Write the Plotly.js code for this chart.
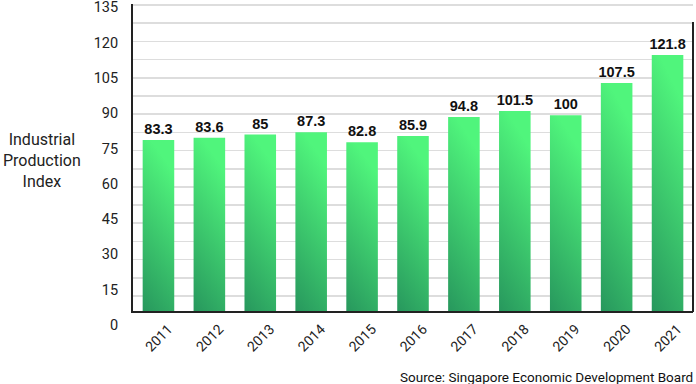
<!DOCTYPE html>
<html>
<head>
<meta charset="utf-8">
<script src="https://cdn.plot.ly/plotly-3.0.1.min.js"></script>
<style>
  html, body { margin: 0; padding: 0; background: #ffffff; }
  #chart { width: 696px; height: 384px; }
</style>
</head>
<body>
<div id="chart"></div>
<script>
// Categories (years)
const years = ['2011', '2012', '2013', '2014', '2015', '2016', '2017', '2018', '2019', '2020', '2021'];
// Bar heights as drawn in the picture (index scale)
const barHeights = [83.7, 84.8, 86.3, 87.4, 82.5, 85.6, 94.9, 97.8, 95.7, 111.5, 125.1];
// Value labels printed above the bars
const valueLabels = ['83.3', '83.6', '85', '87.3', '82.8', '85.9', '94.8', '101.5', '100', '107.5', '121.8'];
// Left tick labels
const tickValues = [0, 15, 30, 45, 60, 75, 90, 105, 120, 135];
const tickLabels = ['0', '15', '30', '45', '60', '75', '90', '105', '120', '135'];

const barTrace = {
  type: 'bar',
  x: years,
  y: barHeights,
  text: valueLabels,
  textposition: 'outside',
  texttemplate: '%{text}',
  cliponaxis: false,
  constraintext: 'none',
  textfont: { family: 'Liberation Sans, Arial, sans-serif', size: 14.5, weight: 700, color: '#111111' },
  marker: { color: '#3ac46c', line: { width: 0 } },
  hoverinfo: 'none'
};

// empty helper trace so the label axis (yaxis2) is created and drawn
const axisTrace = {
  type: 'scatter',
  mode: 'none',
  x: [],
  y: [],
  xaxis: 'x',
  yaxis: 'y2',
  hoverinfo: 'none',
  showlegend: false
};

const layout = {
  width: 696,
  height: 384,
  margin: { l: 133, r: 3, t: 4, b: 59, pad: 0 },
  paper_bgcolor: '#ffffff',
  plot_bgcolor: 'rgba(0,0,0,0)',
  showlegend: false,
  bargap: 0.38,
  font: { family: 'Roboto, sans-serif', color: '#222222' },
  xaxis: {
    type: 'category',
    categoryorder: 'array',
    categoryarray: years,
    showline: true,
    linecolor: '#222222',
    linewidth: 2,
    showgrid: false,
    zeroline: false,
    ticks: '',
    tickangle: -45,
    ticklabelshift: 10,
    ticklabelstandoff: 2,
    tickfont: { family: 'Roboto, sans-serif', size: 14, color: '#222222' },
    automargin: false,
    fixedrange: true
  },
  yaxis: {
    domain: [0.04206, 1],
    range: [0, 150],
    tick0: 7.56,
    dtick: 8.87,
    showgrid: true,
    gridcolor: '#dddddd',
    gridwidth: 1.6,
    showticklabels: false,
    ticks: '',
    showline: true,
    linecolor: '#222222',
    linewidth: 2,
    zeroline: false,
    automargin: false,
    fixedrange: true
  },
  yaxis2: {
    anchor: 'x',
    side: 'left',
    domain: [0, 0.9934],
    range: [0, 135.5],
    tickmode: 'array',
    tickvals: tickValues,
    ticktext: tickLabels,
    showgrid: false,
    zeroline: false,
    showline: false,
    ticks: 'outside',
    ticklen: 11,
    tickcolor: 'rgba(0,0,0,0)',
    ticklabeloverflow: 'allow',
    tickfont: { family: 'Roboto, sans-serif', size: 14.5, color: '#222222' },
    automargin: false,
    fixedrange: true
  },
  shapes: [
    { type: 'line', xref: 'paper', yref: 'paper', x0: 1, x1: 1, y0: 0.0405, y1: 0.944,
      line: { color: '#222222', width: 2 } }
  ],
  annotations: [
    { text: 'Industrial<br>Production<br>Index', xref: 'paper', yref: 'paper',
      x: -0.1625, y: 0.514, xanchor: 'center', yanchor: 'middle', showarrow: false,
      align: 'center', font: { family: 'Roboto, sans-serif', size: 16, color: '#222222' } },
    { text: 'Source: Singapore Economic Development Board', xref: 'paper', yref: 'paper',
      x: 1.0036, y: -0.161, xanchor: 'right', yanchor: 'middle', showarrow: false,
      font: { family: 'Roboto, sans-serif', size: 13.5, color: '#111111' } }
  ]
};

Plotly.newPlot('chart', [barTrace, axisTrace], layout, { staticPlot: true, displayModeBar: false }).then(function (gd) {
  const ns = 'http://www.w3.org/2000/svg';
  const svg = gd.querySelector('svg.main-svg');
  let defs = svg.querySelector('defs');
  if (!defs) { defs = document.createElementNS(ns, 'defs'); svg.insertBefore(defs, svg.firstChild); }
  const grad = document.createElementNS(ns, 'linearGradient');
  grad.setAttribute('id', 'barGrad');
  grad.setAttribute('x1', '0'); grad.setAttribute('y1', '1');
  grad.setAttribute('x2', '0.25'); grad.setAttribute('y2', '0');
  [['0%', '#27975d'], ['100%', '#50f57c']].forEach(function (s) {
    const st = document.createElementNS(ns, 'stop');
    st.setAttribute('offset', s[0]);
    st.setAttribute('stop-color', s[1]);
    grad.appendChild(st);
  });
  defs.appendChild(grad);
  gd.querySelectorAll('.barlayer .point path').forEach(function (p) {
    p.style.fill = 'url(#barGrad)';
  });
});
</script>
</body>
</html>
